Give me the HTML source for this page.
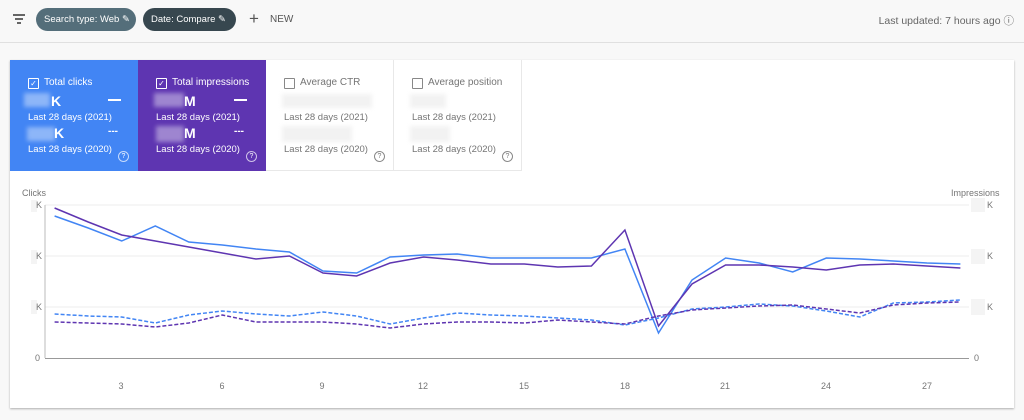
<!DOCTYPE html>
<html><head><meta charset="utf-8"><style>
body{margin:0;width:1024px;height:420px;background:#f8f8f8;font-family:"Liberation Sans",sans-serif;position:relative;overflow:hidden}
.top{position:absolute;left:0;top:0;width:1024px;height:42px;background:#f8f8f8;border-bottom:1px solid #e0e0e0}
.chip{position:absolute;top:8px;height:23px;border-radius:12px;color:#fff;font-size:9.5px;line-height:23px;padding-left:8px;box-sizing:border-box;white-space:nowrap;overflow:hidden}
.card{position:absolute;left:10px;top:60px;width:1004px;height:348px;background:#fff;box-shadow:0 1px 2px rgba(0,0,0,.3)}
.tile{position:absolute;top:0;width:128px;height:111px;font-size:9px;box-sizing:border-box}
.cb{position:absolute;left:18px;top:18px;width:9px;height:9px;border:1px solid;border-radius:1px}
.lbl{position:absolute;left:34px;top:17px;font-size:10px}
.sub{position:absolute;left:18px;font-size:9.5px}
.blur{position:absolute;background:rgba(255,255,255,.35);filter:blur(2px)}
.q{position:absolute;left:108px;top:91px;width:9px;height:9px;border:1px solid;border-radius:50%;font-size:7px;text-align:center;line-height:9px}
</style></head><body>
<div class="top">
<div style="position:absolute;left:13px;top:14px;width:12px;height:1.5px;background:#666"></div>
<div style="position:absolute;left:15px;top:18px;width:8px;height:1.5px;background:#666"></div>
<div style="position:absolute;left:17px;top:22px;width:4px;height:1.5px;background:#666"></div>
<div class="chip" style="left:36px;width:100px;background:#546e7a">Search type: Web ✎</div>
<div class="chip" style="left:143px;width:93px;background:#37474f">Date: Compare ✎</div>
<div style="position:absolute;left:249px;top:9px;font-size:17px;color:#555">+</div>
<div style="position:absolute;left:270px;top:14px;font-size:10px;color:#555">NEW</div>
<div style="position:absolute;right:10px;top:13px;font-size:10.5px;color:#666">Last updated: 7 hours ago ⓘ</div>
</div>
<div class="card">
<div class="tile" style="left:0;background:#4285f4;color:#fff">
<div class="cb" style="border-color:#fff;font-size:8px;line-height:9px;text-align:center">✓</div><div class="lbl">Total clicks</div>
<div class="blur" style="left:14px;top:33px;width:26px;height:14px;background:rgba(255,255,255,.4)"></div>
<div style="position:absolute;left:41px;top:33px;font-size:14px;font-weight:bold">K</div>
<div style="position:absolute;left:98px;top:39px;width:13px;height:1.5px;background:#fff"></div>
<div class="sub" style="top:52px">Last 28 days (2021)</div>
<div class="blur" style="left:17px;top:67px;width:28px;height:14px;background:rgba(255,255,255,.4)"></div>
<div style="position:absolute;left:44px;top:65px;font-size:14px;font-weight:bold">K</div>
<div style="position:absolute;left:98px;top:66px;font-size:10px;font-weight:bold">---</div>
<div class="sub" style="top:84px">Last 28 days (2020)</div>
<div class="q" style="border-color:rgba(255,255,255,.7)">?</div></div>
<div class="tile" style="left:128px;background:#5e35b1;color:#fff">
<div class="cb" style="border-color:#fff;font-size:8px;line-height:9px;text-align:center">✓</div><div class="lbl">Total impressions</div>
<div class="blur" style="left:16px;top:33px;width:30px;height:14px;background:rgba(255,255,255,.4)"></div>
<div style="position:absolute;left:46px;top:33px;font-size:14px;font-weight:bold">M</div>
<div style="position:absolute;left:96px;top:39px;width:13px;height:1.5px;background:#fff"></div>
<div class="sub" style="top:52px">Last 28 days (2021)</div>
<div class="blur" style="left:18px;top:66px;width:28px;height:16px;background:rgba(255,255,255,.4)"></div>
<div style="position:absolute;left:46px;top:65px;font-size:14px;font-weight:bold">M</div>
<div style="position:absolute;left:96px;top:66px;font-size:10px;font-weight:bold">---</div>
<div class="sub" style="top:84px">Last 28 days (2020)</div>
<div class="q" style="border-color:rgba(255,255,255,.7)">?</div></div>
<div class="tile" style="left:256px;color:#757575;border-right:1px solid #e8e8e8;border-bottom:1px solid #e8e8e8">
<div class="cb" style="border-color:#888"></div><div class="lbl">Average CTR</div>
<div class="blur" style="left:16px;top:34px;width:90px;height:14px;background:#f2f2f2"></div>
<div class="sub" style="top:52px">Last 28 days (2021)</div>
<div class="blur" style="left:16px;top:66px;width:70px;height:16px;background:#f2f2f2"></div>
<div class="sub" style="top:84px">Last 28 days (2020)</div>
<div class="q" style="border-color:#888">?</div></div>
<div class="tile" style="left:384px;color:#757575;border-right:1px solid #e8e8e8;border-bottom:1px solid #e8e8e8">
<div class="cb" style="border-color:#888"></div><div class="lbl">Average position</div>
<div class="blur" style="left:16px;top:34px;width:36px;height:14px;background:#f2f2f2"></div>
<div class="sub" style="top:52px">Last 28 days (2021)</div>
<div class="blur" style="left:16px;top:66px;width:40px;height:16px;background:#f2f2f2"></div>
<div class="sub" style="top:84px">Last 28 days (2020)</div>
<div class="q" style="border-color:#888">?</div></div>
</div>
<svg id="ch" width="1024" height="420" style="position:absolute;left:0;top:0" font-family="Liberation Sans, sans-serif" font-size="9" fill="#757575">
<text x="22" y="196" font-size="9">Clicks</text>
<text x="951" y="196" font-size="9">Impressions</text>
<g stroke="#ececec" stroke-width="1"><line x1="45" y1="205" x2="969" y2="205"/><line x1="45" y1="256" x2="969" y2="256"/><line x1="45" y1="307" x2="969" y2="307"/></g>
<line x1="45" y1="205" x2="45" y2="358" stroke="#bbb"/>
<line x1="45" y1="358.5" x2="969" y2="358.5" stroke="#999"/>
<g fill="#f4f4f4"><rect x="31" y="200" width="6" height="12"/><rect x="31" y="250" width="6" height="14"/><rect x="31" y="300" width="6" height="14"/><rect x="971" y="198" width="14" height="14"/><rect x="971" y="249" width="14" height="15"/><rect x="971" y="299" width="14" height="16"/></g>
<text x="36" y="208">K</text><text x="36" y="259">K</text><text x="36" y="310">K</text><text x="35" y="361">0</text>
<text x="987" y="208">K</text><text x="987" y="259">K</text><text x="987" y="310">K</text><text x="974" y="361">0</text>
<g text-anchor="middle"><text x="121" y="389">3</text><text x="222" y="389">6</text><text x="322" y="389">9</text><text x="423" y="389">12</text><text x="524" y="389">15</text><text x="625" y="389">18</text><text x="725" y="389">21</text><text x="826" y="389">24</text><text x="927" y="389">27</text></g>
<polyline id="a" fill="none" stroke="#4285f4" stroke-width="1.5"/>
<polyline id="b" fill="none" stroke="#5e35b1" stroke-width="1.5"/>
<polyline id="c" fill="none" stroke="#4285f4" stroke-width="1.5" stroke-dasharray="4,2"/>
<polyline id="d" fill="none" stroke="#5e35b1" stroke-width="1.5" stroke-dasharray="4,2"/>
</svg>
<script>
var D={a:[216,228,241,226,242,245,249,252,271,273,257,255,254,258,258,258,258,249,333,280,258,263,272,258,259,261,263,264],
b:[208,222,235,241,247,253,259,256,273,276,263,257,260,264,264,267,266,230,326,284,265,265,267,270,265,264,266,268],
c:[314,316,317,323,315,311,314,316,312,316,324,318,313,315,316,318,320,325,318,309,307,304,306,311,317,303,302,300],
d:[322,323,324,327,323,315,322,322,322,324,328,324,322,322,323,320,322,324,316,310,308,306,305,309,313,305,303,302]};
for(var k in D){document.getElementById(k).setAttribute('points',D[k].map(function(y,i){return (54.6+i*33.55).toFixed(1)+','+y}).join(' '));}
</script>
</body></html>
